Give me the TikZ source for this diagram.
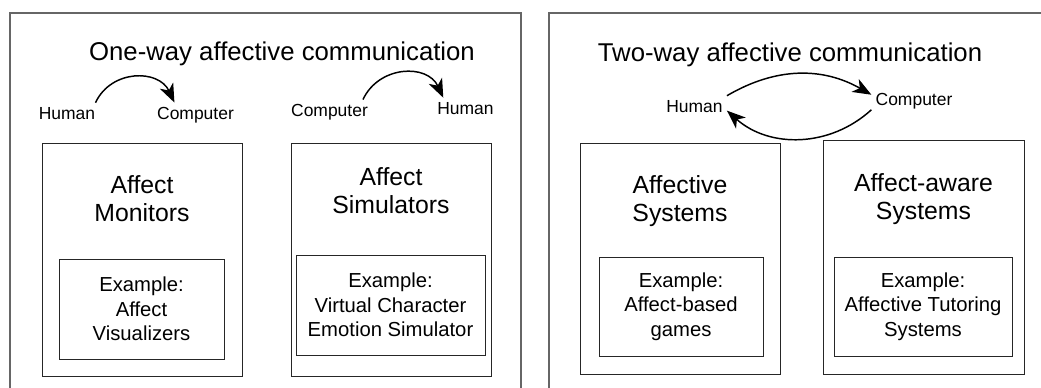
\documentclass[tikz,border=0pt]{standalone}
\usepackage{fontspec}
\setmainfont{Liberation Sans}
\usetikzlibrary{arrows.meta}

\tikzset{
  panel/.style={draw=black!60, line width=0.8pt},
  kind/.style={draw=black!85, line width=0.75pt, minimum width=150pt, minimum height=174.75pt, inner sep=0pt},
  kindname/.style={anchor=north, inner sep=0pt, align=center, font=\fontsize{18.6}{21.4}\selectfont},
  example/.style={draw=black!85, line width=0.75pt, minimum height=75pt, inner sep=0pt, align=center, font=\fontsize{15.2}{18.4}\selectfont},
  heading/.style={anchor=north, inner sep=0pt, font=\fontsize{19.3}{23}\selectfont},
  party/.style={anchor=base, inner sep=3pt, font=\fontsize{13.1}{15}\selectfont},
  flow/.style={-{Stealth[length=14pt,width=11pt,inset=4pt]}, line width=1.1pt, black},
  hop/.style={out=65, in=115, looseness=1.2}
}

\begin{document}
\begin{tikzpicture}[x=0.75pt, y=0.75pt]
  \useasboundingbox (0,0) rectangle (1041,-387);
  \clip (0,0) rectangle (1041,-387);

  % One-way panel
  \begin{scope}
    \draw[panel] (10,-13) rectangle (521,-420);
    \node[heading] (oneway) at (282,-42) {One-way affective communication};
    \node[party] (hum1) at (67,-119) {Human};
    \node[party] (com1) at (195.5,-119) {Computer};
    \node[party] (com2) at (329.5,-116) {Computer};
    \node[party] (hum2) at (465.5,-114) {Human};
    \draw[flow] (hum1.20) to[hop] (com1.150);
    \draw[flow] (com2.20) to[hop] (hum2.155);

    \node[kind] (monitors) at (142,-259.5) {};
    \node[kindname] (monitorsname) at (142,-175) {Affect\\Monitors};
    \node[example, minimum width=123.75pt] (visualizers) at (141.5,-309) {Example:\\Affect\\Visualizers};

    \node[kind] (simulators) at (391,-259.5) {};
    \node[kindname] (simulatorsname) at (391,-167) {Affect\\Simulators};
    \node[example, minimum width=141.75pt] (character) at (390.5,-305) {Example:\\Virtual Character\\Emotion Simulator};
  \end{scope}

  % Two-way panel
  \begin{scope}
    \draw[panel] (549,-13) rectangle (1080,-420);
    \node[heading] (twoway) at (790,-43) {Two-way affective communication};
    \node[party] (hum3) at (694.5,-112) {Human};
    \node[party] (com3) at (914,-105) {Computer};
    \draw[flow] (hum3.north east) to[bend left=30] (com3.172);
    \draw[flow] (com3.192) to[bend left=42] (hum3.-8);

    \node[kind, minimum height=173.25pt] (affective) at (680,-258.5) {};
    \node[kindname] (affectivename) at (680,-175) {Affective\\Systems};
    \node[example, minimum width=123pt, minimum height=74.25pt] (games) at (681,-306.5) {Example:\\Affect-based\\games};

    \node[kind, minimum width=150.75pt, minimum height=175.5pt] (aware) at (923.5,-257) {};
    \node[kindname] (awarename) at (923.5,-173) {Affect-aware\\Systems};
    \node[example, minimum width=133.5pt, minimum height=74.25pt] (tutoring) at (923,-306.5) {Example:\\Affective Tutoring\\Systems};
  \end{scope}
\end{tikzpicture}
\end{document}
